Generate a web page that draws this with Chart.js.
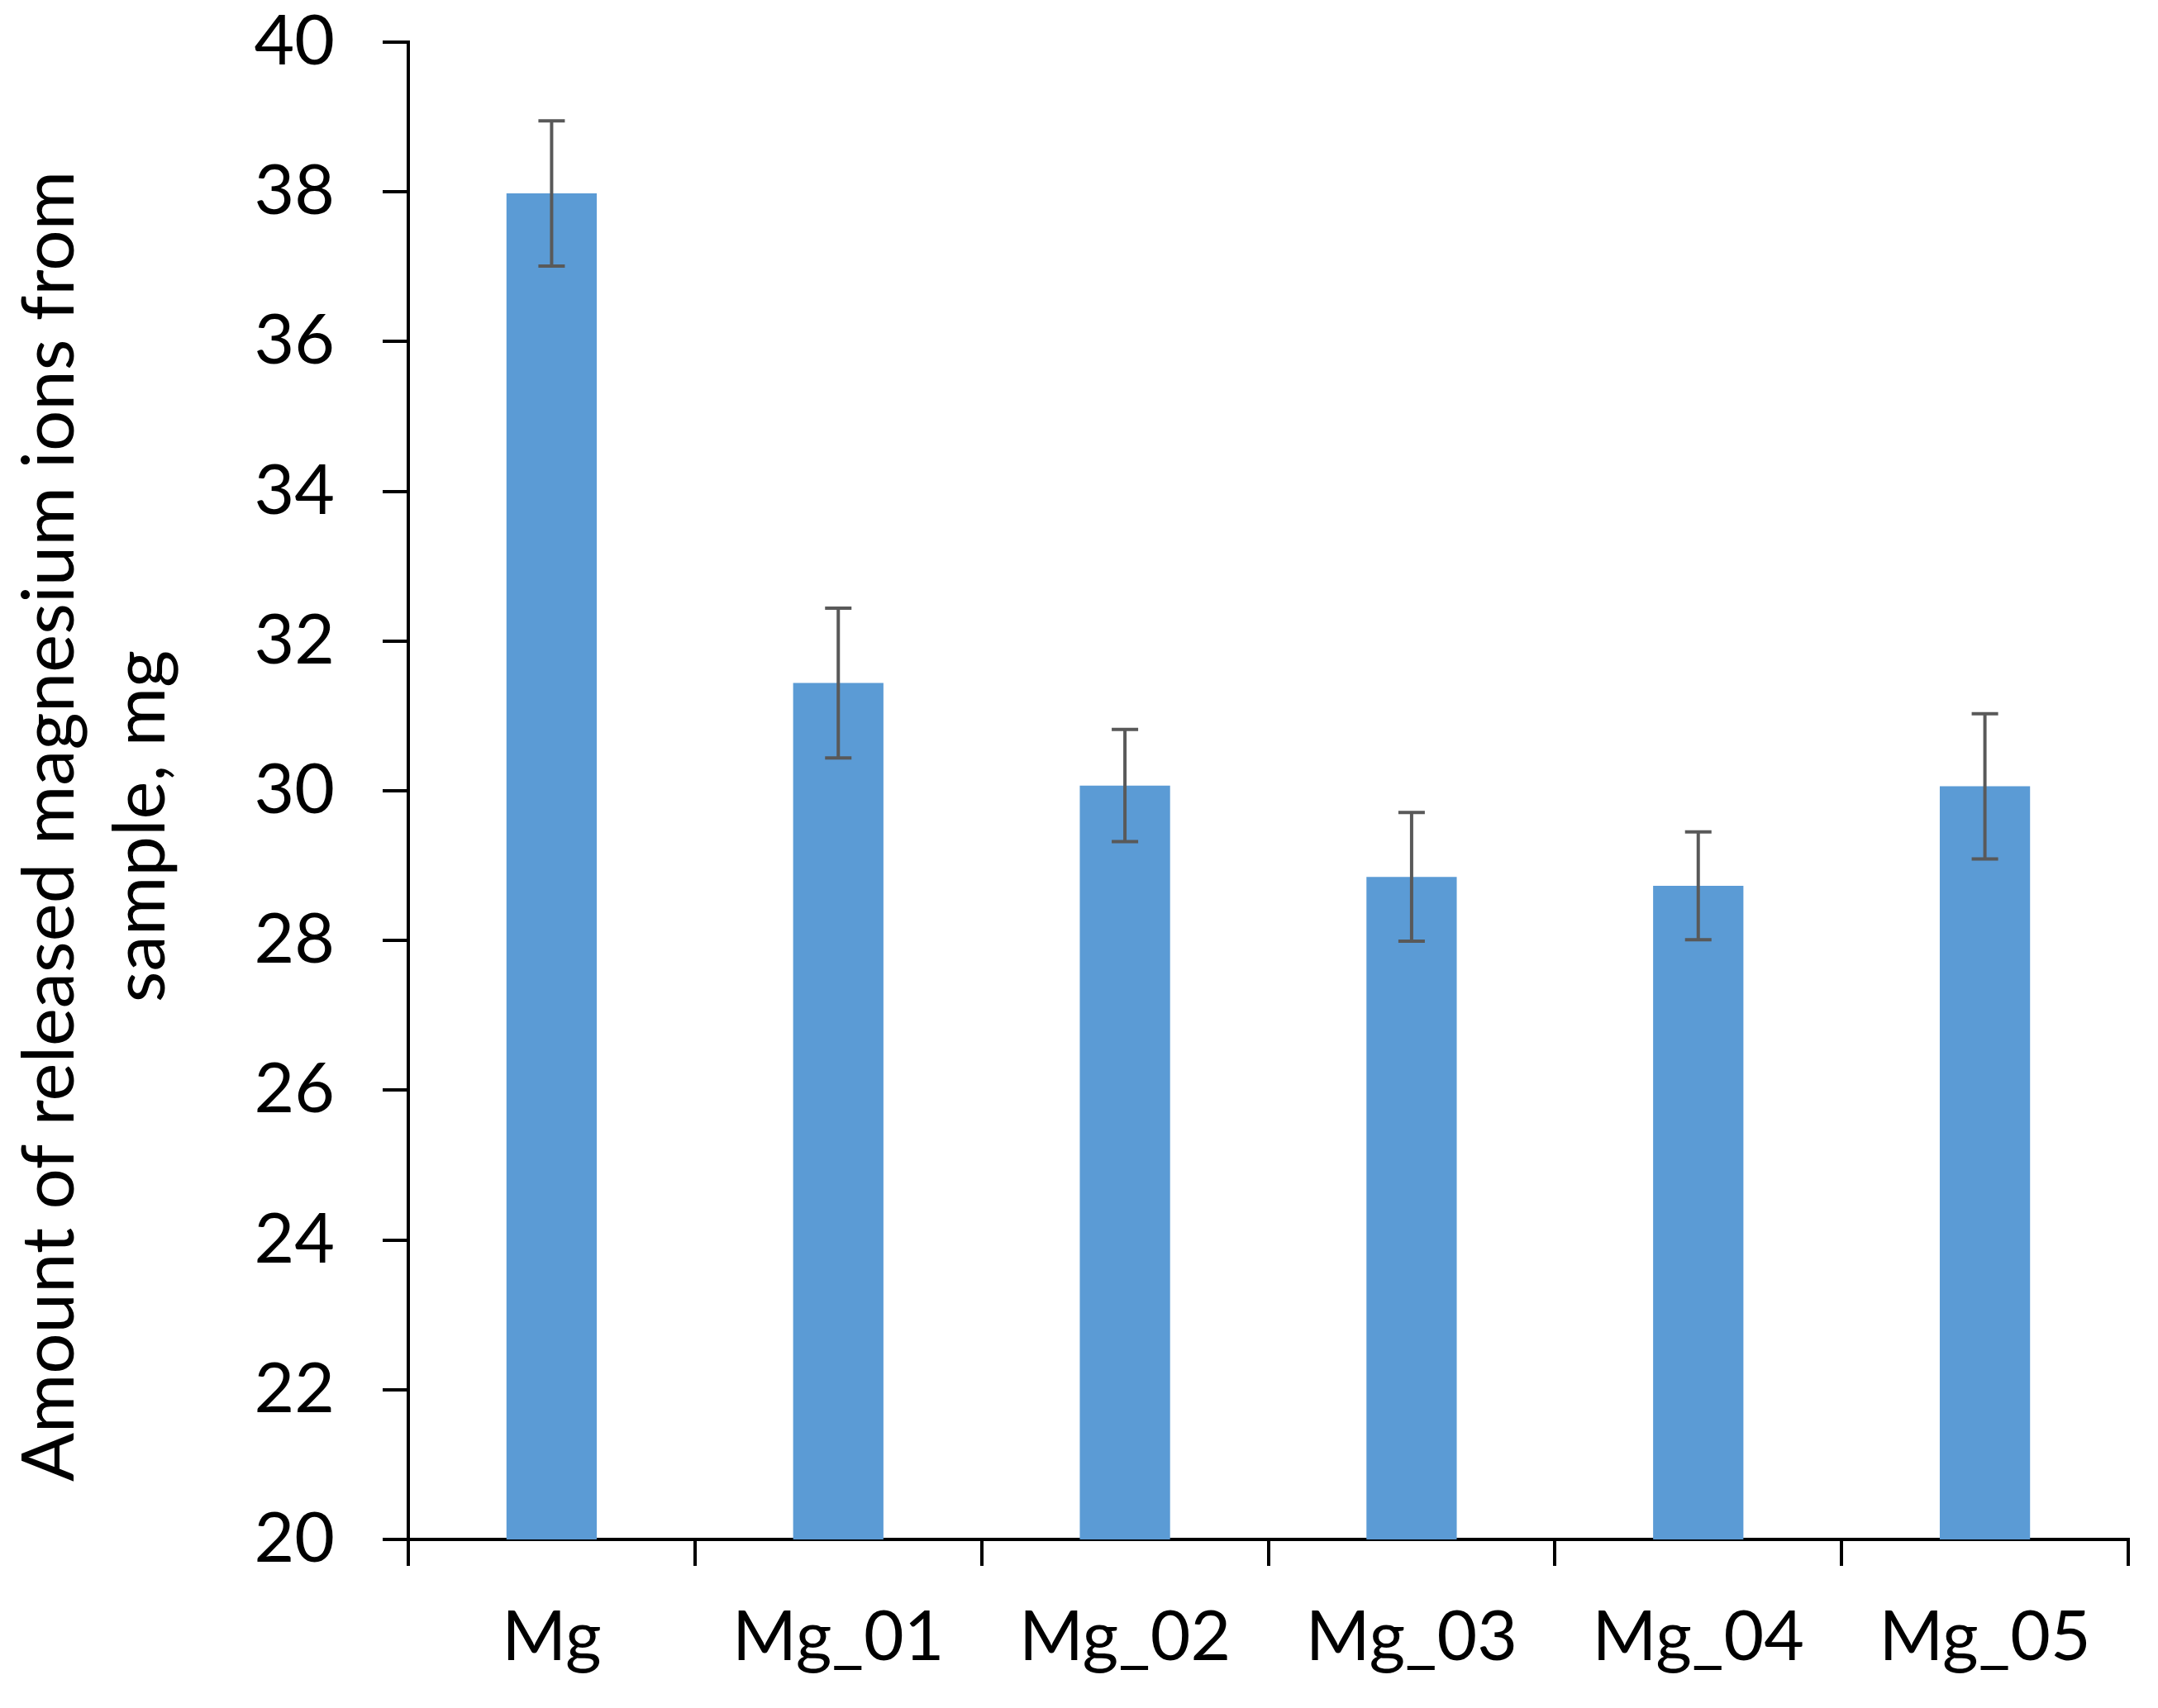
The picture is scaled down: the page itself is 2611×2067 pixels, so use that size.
<!DOCTYPE html>
<html>
<head>
<meta charset="utf-8">
<script src="https://cdn.jsdelivr.net/npm/chart.js@4.4.1/dist/chart.umd.min.js"></script>
<style>
  html, body { margin: 0; padding: 0; background: #fff; }
  canvas { display: block; }
</style>
</head>
<body>
<canvas id="chart" width="2611" height="2067"></canvas>
<script>
const samples = ["Mg", "Mg_01", "Mg_02", "Mg_03", "Mg_04", "Mg_05"];
const releasedMg = [37.98, 31.44, 30.07, 28.85, 28.73, 30.06];
const errors = [0.97, 1.0, 0.75, 0.86, 0.72, 0.97];
const yTitle = ["Amount of released magnesium ions from", "sample, mg"];

const axisFont = { family: "Lato", size: 84 };

const errorBars = {
  id: "errorBars",
  afterDatasetsDraw(chart) {
    const { ctx } = chart;
    const yScale = chart.scales.y;
    const meta = chart.getDatasetMeta(0);
    ctx.save();
    ctx.strokeStyle = "#595959";
    ctx.lineWidth = 4;
    meta.data.forEach((bar, i) => {
      const top = yScale.getPixelForValue(releasedMg[i] + errors[i]);
      const bottom = yScale.getPixelForValue(releasedMg[i] - errors[i]);
      ctx.beginPath();
      ctx.moveTo(bar.x, top);
      ctx.lineTo(bar.x, bottom);
      ctx.moveTo(bar.x - 16, top);
      ctx.lineTo(bar.x + 16, top);
      ctx.moveTo(bar.x - 16, bottom);
      ctx.lineTo(bar.x + 16, bottom);
      ctx.stroke();
    });
    ctx.restore();
  },
};

// y-axis title, drawn a bit below the axis middle like the original
const yAxisTitle = {
  id: "yAxisTitle",
  afterDraw(chart) {
    const { ctx, chartArea } = chart;
    const midY = (chartArea.top + chartArea.bottom) / 2 + 43;
    ctx.save();
    ctx.fillStyle = "#000";
    ctx.font = "87px Lato";
    ctx.textAlign = "center";
    ctx.textBaseline = "middle";
    ctx.translate(0, midY);
    ctx.rotate(-Math.PI / 2);
    yTitle.forEach((line, i) => {
      ctx.fillText(line, 0, 61 + i * 110);
    });
    ctx.restore();
  },
};

window.onload = () => {
  new Chart(document.getElementById("chart").getContext("2d"), {
    type: "bar",
    data: {
      labels: samples,
      datasets: [
        {
          data: releasedMg,
          backgroundColor: "#5B9BD5",
          borderWidth: 0,
          barPercentage: 0.315,
          categoryPercentage: 1,
        },
      ],
    },
    options: {
      responsive: false,
      animation: false,
      devicePixelRatio: 1,
      layout: { padding: { top: 51, right: 36, bottom: 0, left: 0 } },
      plugins: { legend: { display: false }, tooltip: { enabled: false } },
      scales: {
        x: {
          z: 1,
          grid: {
            offset: true,
            drawOnChartArea: false,
            drawTicks: true,
            tickLength: 32,
            color: "#000",
            lineWidth: 4,
          },
          border: { display: true, color: "#000", width: 4 },
          ticks: { color: "#000", font: axisFont, padding: 37, maxRotation: 0 },
          afterFit: (scale) => {
            scale.height = 204;
          },
        },
        y: {
          z: 1,
          min: 20,
          max: 40,
          ticks: { stepSize: 2, color: "#000", font: axisFont, padding: 58 },
          grid: {
            drawOnChartArea: false,
            drawTicks: true,
            tickLength: 31,
            color: "#000",
            lineWidth: 4,
          },
          border: { display: true, color: "#000", width: 4 },
          afterFit: (scale) => {
            scale.width = 494;
            scale.paddingTop = 0;
            scale.paddingBottom = 0;
          },
        },
      },
    },
    plugins: [errorBars, yAxisTitle],
  });
};
</script>
</body>
</html>
